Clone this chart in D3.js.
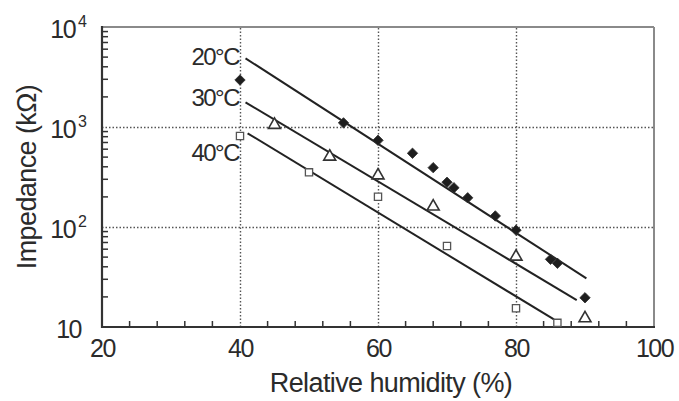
<!DOCTYPE html>
<html>
<head>
<meta charset="utf-8">
<script src="https://cdn.jsdelivr.net/npm/d3@7"></script>
<style>
  body { margin: 0; background: #fff; }
  text { font-family: "Liberation Sans", Arial, sans-serif; fill: #2b2b2b; }
</style>
</head>
<body>
<svg id="chart" width="679" height="401"></svg>
<script>
// measured points, relative humidity (%) vs impedance (kOhm)
const rh20 = [40, 55, 60, 65, 68, 70, 71, 73, 77, 80, 85, 86, 90];
const z20  = [2950, 1100, 736, 546, 392, 280, 247, 196, 129, 93, 47.5, 43.4, 19.6];
const rh30 = [45, 53, 60, 68, 80, 90];
const z30  = [1050, 505, 328, 160, 50.5, 12.2];
const rh40 = [40, 50, 60, 70, 80, 86];
const z40  = [813, 352, 201, 64.6, 15.4, 11.0];

// fitted lines (end points)
const fitRh20 = [40.8, 90.2], fitZ20 = [4860, 30.7];
const fitRh30 = [40.8, 88.8], fitZ30 = [1766, 18.6];
const fitRh40 = [41.1, 85.5], fitZ40 = [865, 11.9];

const seriesNames = ["20°C", "30°C", "40°C"];
const labelZ = [5130, 1995, 562];

const xTicks = [20, 40, 60, 80, 100];
const yTicks = [10, 100, 1000, 10000];
const yTickExp = ["", "2", "3", "4"];
const gridX = [40, 60, 80];
const gridY = [100, 1000];

const svg = d3.select("#chart");
const x = d3.scaleLinear().domain([20, 100]).range([102, 654]);
const y = d3.scaleLog().domain([10, 10000]).range([327, 27]);
const plotH = 300, plotW = 552;

// dotted grid
svg.append("g")
  .attr("transform", "translate(0,327)")
  .call(d3.axisBottom(x).tickValues(gridX).tickSize(-plotH).tickFormat(""))
  .call(g => g.select(".domain").remove())
  .selectAll("line")
  .attr("stroke", "#555").attr("stroke-width", 1.4).attr("stroke-dasharray", "1.5,2");

svg.append("g")
  .attr("transform", "translate(102,0)")
  .call(d3.axisLeft(y).tickValues(gridY).tickSize(-plotW).tickFormat(""))
  .call(g => g.select(".domain").remove())
  .selectAll("line")
  .attr("stroke", "#555").attr("stroke-width", 1.4).attr("stroke-dasharray", "1.5,2");

// frame: top/right grey, left/bottom dark
svg.append("line").attr("x1", 102).attr("x2", 654).attr("y1", 27).attr("y2", 27)
  .attr("stroke", "#8a8a8a").attr("stroke-width", 2);
svg.append("line").attr("x1", 654).attr("x2", 654).attr("y1", 27).attr("y2", 327)
  .attr("stroke", "#8a8a8a").attr("stroke-width", 2);
svg.append("line").attr("x1", 102).attr("x2", 655).attr("y1", 327).attr("y2", 327)
  .attr("stroke", "#333").attr("stroke-width", 2.2);
svg.append("line").attr("x1", 102).attr("x2", 102).attr("y1", 26).attr("y2", 328)
  .attr("stroke", "#333").attr("stroke-width", 2.2);

// minor ticks (inside)
const xMinor = d3.range(24, 100, 4).filter(v => v % 20 !== 0);
const yMinor = [];
[10, 100, 1000].forEach(d => { for (let k = 2; k <= 9; k++) yMinor.push(k * d); });

svg.append("g").selectAll("line")
  .data(xMinor).join("line")
  .attr("x1", d => x(d)).attr("x2", d => x(d))
  .attr("y1", 327).attr("y2", 321)
  .attr("stroke", "#333").attr("stroke-width", 1.5);

svg.append("g").selectAll("line")
  .data(yMinor).join("line")
  .attr("x1", 102).attr("x2", 108)
  .attr("y1", d => y(d)).attr("y2", d => y(d))
  .attr("stroke", "#333").attr("stroke-width", 1.5);

// x tick labels
const xAx = svg.append("g")
  .attr("transform", "translate(0,327)")
  .call(d3.axisBottom(x).tickValues(xTicks).tickSize(0).tickPadding(12).tickFormat(d3.format("d")));
xAx.select(".domain").remove();
xAx.selectAll("text")
  .attr("font-size", 25).attr("letter-spacing", "-1.5px").attr("fill", "#2b2b2b")
  .attr("font-family", '"Liberation Sans", Arial, sans-serif');

// y tick labels with superscripts
const yAx = svg.append("g")
  .attr("transform", "translate(102,0)")
  .call(d3.axisLeft(y).tickValues(yTicks).tickSize(0).tickFormat(""));
yAx.select(".domain").remove();
yAx.selectAll(".tick text").remove();
yAx.selectAll(".tick").each(function (d, i) {
  const t = d3.select(this).append("text")
    .attr("text-anchor", "end")
    .attr("x", yTickExp[i] ? -15 : -21)
    .attr("y", 10)
    .attr("font-size", 25).attr("letter-spacing", "-1.5px")
    .attr("font-family", '"Liberation Sans", Arial, sans-serif')
    .attr("fill", "#2b2b2b");
  t.append("tspan").text("10");
  if (yTickExp[i]) {
    t.append("tspan").attr("dy", -11).attr("dx", 3).attr("font-size", 16).attr("letter-spacing", "0").text(yTickExp[i]);
  }
});

// fitted lines
const line = d3.line().x(d => x(d[0])).y(d => y(d[1]));
[[fitRh20, fitZ20], [fitRh30, fitZ30], [fitRh40, fitZ40]].forEach(([rx, rz]) => {
  svg.append("path")
    .datum(rx.map((v, i) => [v, rz[i]]))
    .attr("d", line)
    .attr("fill", "none").attr("stroke", "#222").attr("stroke-width", 2);
});

// markers
const pts = (rx, rz) => rx.map((v, i) => ({ rh: v, z: rz[i] }));

svg.append("g").selectAll("path")
  .data(pts(rh20, z20)).join("path")
  .attr("d", d3.symbol(d3.symbolSquare, 54))
  .attr("transform", d => `translate(${x(d.rh)},${y(d.z)}) rotate(45)`)
  .attr("fill", "#1e1e1e").attr("stroke", "#333").attr("stroke-width", 0.8);

svg.append("g").selectAll("path")
  .data(pts(rh30, z30)).join("path")
  .attr("d", d3.symbol(d3.symbolTriangle, 62))
  .attr("transform", d => `translate(${x(d.rh)},${y(d.z)})`)
  .attr("fill", "#fff").attr("stroke", "#333").attr("stroke-width", 1.6);

svg.append("g").selectAll("path")
  .data(pts(rh40, z40)).join("path")
  .attr("d", d3.symbol(d3.symbolSquare, 52))
  .attr("transform", d => `translate(${x(d.rh)},${y(d.z)})`)
  .attr("fill", "#fff").attr("stroke", "#555").attr("stroke-width", 1.3);

// series labels
svg.append("g").selectAll("text")
  .data(seriesNames).join("text")
  .attr("x", x(40) - 1)
  .attr("y", (d, i) => y(labelZ[i]))
  .attr("dy", "0.36em")
  .attr("text-anchor", "end")
  .attr("font-size", 24)
  .attr("letter-spacing", "-1.5px")
  .text(d => d);

// axis titles
svg.append("text")
  .attr("x", (102 + 654) / 2 + 13).attr("y", 392)
  .attr("text-anchor", "middle")
  .attr("font-size", 27).attr("letter-spacing", "-0.6px")
  .text("Relative humidity (%)");

svg.append("text")
  .attr("transform", "translate(36,177) rotate(-90)")
  .attr("text-anchor", "middle")
  .attr("font-size", 27).attr("letter-spacing", "-0.6px")
  .text("Impedance (kΩ)");
</script>
</body>
</html>
